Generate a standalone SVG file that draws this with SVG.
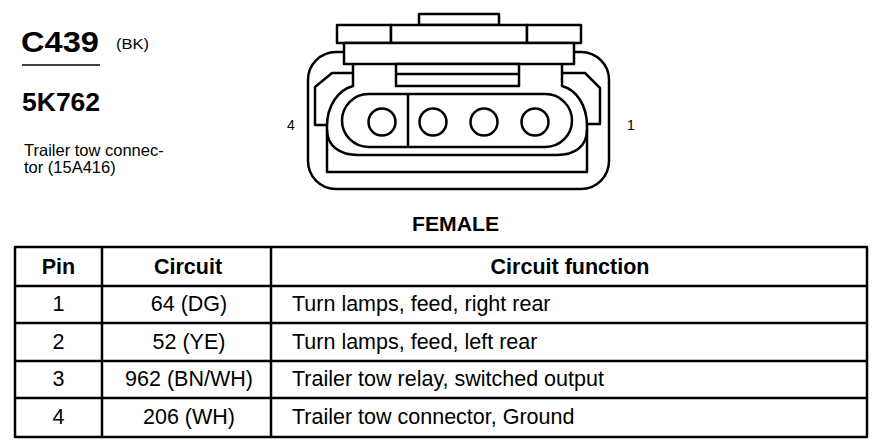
<svg xmlns="http://www.w3.org/2000/svg" width="884" height="448" viewBox="0 0 884 448">
<style>
  text { font-family: "Liberation Sans", Arial, sans-serif; fill: #000; }
  .b { font-weight: bold; }
  .ln { fill: none; stroke: #000; stroke-width: 2.5; stroke-linejoin: round; }
  .wf { fill: #fff; stroke: #000; stroke-width: 2.5; stroke-linejoin: round; }
  .cell { font-size: 21.5px; }
  .hd { font-size: 21.5px; font-weight: bold; }
  .mid { text-anchor: middle; }
</style>
<rect x="0" y="0" width="884" height="448" fill="#fff"/>

<g id="title">
  <text x="21" y="52" class="b" font-size="29" textLength="78" lengthAdjust="spacingAndGlyphs">C439</text>
  <text x="116" y="49" font-size="15" textLength="33" lengthAdjust="spacingAndGlyphs">(BK)</text>
  <line x1="22" y1="65" x2="100" y2="65" stroke="#000" stroke-width="1.5"/>
  <text x="22" y="111" class="b" font-size="26.5">5K762</text>
  <text x="24" y="156" font-size="16.5">Trailer tow connec-</text>
  <text x="24" y="173" font-size="16.5">tor (15A416)</text>
</g>

<g id="connector">
  <rect class="wf" x="308" y="52" width="301" height="137" rx="28" ry="28"/>
  <rect class="wf" x="419" y="14" width="80" height="11"/>
  <rect class="wf" x="337" y="25" width="54" height="18"/>
  <rect class="wf" x="391" y="25" width="136" height="18"/>
  <rect class="wf" x="527" y="25" width="54" height="18"/>
  <rect class="wf" x="344" y="43" width="230" height="21"/>
  <rect class="wf" x="396" y="64" width="123" height="22"/>
  <line class="ln" x1="396" y1="74" x2="519" y2="74"/>
  <path class="ln" d="M353,73 L332,73 L315,87 L315,125 L327,125"/>
  <path class="ln" d="M562,73 L585,73 L600,88 L600,124 L587,124"/>
  <path class="ln" d="M353,64 L353,86 C338,90 327,106 327,126 L327,172 L587,172 L587,126 C587,106 577,90 562,86 L562,64"/>
  <path class="ln" d="M327,130 C327,146 340,155 358,155 L557,155 C575,155 587,146 587,130"/>
  <rect class="ln" x="342" y="94" width="230" height="53" rx="26.5" ry="26.5"/>
  <line class="ln" x1="408" y1="94" x2="408" y2="147"/>
  <circle class="ln" cx="382" cy="122" r="13.5"/>
  <circle class="ln" cx="433" cy="122" r="13.5"/>
  <circle class="ln" cx="484" cy="122" r="13.5"/>
  <circle class="ln" cx="535" cy="122" r="13.5"/>
  <text x="291" y="130" font-size="14" class="mid">4</text>
  <text x="631" y="130" font-size="14" class="mid">1</text>
  <text x="455.5" y="231" class="b mid" font-size="20" textLength="87" lengthAdjust="spacingAndGlyphs">FEMALE</text>
</g>

<g id="table">
  <rect class="ln" x="15" y="247" width="852" height="190"/>
  <line class="ln" x1="15" y1="286" x2="867" y2="286"/>
  <line class="ln" x1="15" y1="323" x2="867" y2="323"/>
  <line class="ln" x1="15" y1="361" x2="867" y2="361"/>
  <line class="ln" x1="15" y1="398" x2="867" y2="398"/>
  <line class="ln" x1="102" y1="247" x2="102" y2="437"/>
  <line class="ln" x1="271" y1="247" x2="271" y2="437"/>

  <text x="58.5" y="274" class="hd mid">Pin</text>
  <text x="188" y="274" class="hd mid">Circuit</text>
  <text x="570" y="274" class="hd mid">Circuit function</text>

  <text x="58.5" y="311" class="cell mid">1</text>
  <text x="189" y="311" class="cell mid">64 (DG)</text>
  <text x="292" y="311" class="cell">Turn lamps, feed, right rear</text>

  <text x="58.5" y="349" class="cell mid">2</text>
  <text x="189" y="349" class="cell mid">52 (YE)</text>
  <text x="292" y="349" class="cell">Turn lamps, feed, left rear</text>

  <text x="58.5" y="386" class="cell mid">3</text>
  <text x="189" y="386" class="cell mid">962 (BN/WH)</text>
  <text x="292" y="386" class="cell">Trailer tow relay, switched output</text>

  <text x="58.5" y="424" class="cell mid">4</text>
  <text x="189" y="424" class="cell mid">206 (WH)</text>
  <text x="292" y="424" class="cell">Trailer tow connector, Ground</text>
</g>
</svg>
